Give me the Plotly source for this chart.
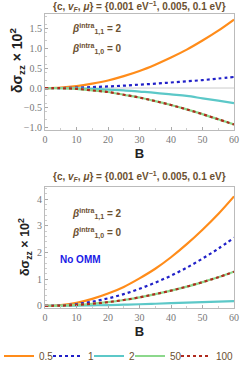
import plotly.graph_objects as go
from plotly.subplots import make_subplots

B = [0, 5, 10, 15, 20, 25, 30, 35, 40, 45, 50, 55, 60]

# Top panel (with OMM)
top_05 = [0, 0.012, 0.048, 0.11, 0.19, 0.30, 0.43, 0.59, 0.77, 0.97, 1.20, 1.45, 1.73]
top_1 = [0, 0.0, 0.01, 0.025, 0.04, 0.06, 0.085, 0.11, 0.14, 0.17, 0.20, 0.24, 0.28]
top_2 = [0, 0.0, -0.01, -0.02, -0.04, -0.06, -0.09, -0.12, -0.16, -0.20, -0.26, -0.32, -0.38]
top_50 = [0, -0.005, -0.02, -0.06, -0.10, -0.17, -0.24, -0.33, -0.43, -0.54, -0.66, -0.79, -0.92]
top_100 = [0, -0.005, -0.02, -0.06, -0.10, -0.17, -0.24, -0.33, -0.43, -0.54, -0.66, -0.79, -0.92]

# Bottom panel (No OMM)
bot_05 = [0, 0.03, 0.11, 0.26, 0.46, 0.71, 1.03, 1.39, 1.82, 2.31, 2.85, 3.44, 4.10]
bot_1 = [0, 0.02, 0.07, 0.16, 0.28, 0.44, 0.64, 0.87, 1.13, 1.43, 1.77, 2.14, 2.55]
bot_2 = [0, 0.005, 0.01, 0.02, 0.03, 0.045, 0.06, 0.08, 0.10, 0.12, 0.14, 0.16, 0.18]
bot_50 = [0, 0.01, 0.035, 0.08, 0.14, 0.22, 0.32, 0.44, 0.57, 0.72, 0.89, 1.07, 1.28]
bot_100 = [0, 0.01, 0.035, 0.08, 0.14, 0.22, 0.32, 0.44, 0.57, 0.72, 0.89, 1.07, 1.28]

names = ["0.5", "1", "2", "50", "100"]
colors = ["#FF8C1A", "#2020C8", "#5CC8C8", "#8CD88C", "#B02A1E"]
dashes = ["solid", "dot", "solid", "solid", "dot"]
legend_ids = ["legend", "legend2", "legend3", "legend4", "legend5"]
legend_left_px = [-1, 48, 89, 130, 176]

x_ticks = [0, 10, 20, 30, 40, 50, 60]
top_yticks = [-1.0, -0.5, 0.0, 0.5, 1.0, 1.5]
top_ytext = ["−1.0", "−0.5", "0.0", "0.5", "1.0", "1.5"]
bot_yticks = [0, 1, 2, 3, 4]

H, MB = 366, 20
PH = H - MB
ML, PW = 45, 189


def py(px):
    return 1 - px / PH


def pxx(px):
    return (px - ML) / PW


fig = make_subplots(rows=2, cols=1)

brown = "#6B5030"
for i, (t, b) in enumerate(zip([top_05, top_1, top_2, top_50, top_100],
                               [bot_05, bot_1, bot_2, bot_50, bot_100])):
    fig.add_trace(go.Scatter(x=B, y=t, mode="lines", name=names[i],
                             line=dict(color=colors[i], dash=dashes[i], width=2.2, shape="spline"),
                             showlegend=True, legendgroup=names[i],
                             legend=legend_ids[i]), row=1, col=1)
    fig.add_trace(go.Scatter(x=B, y=b, mode="lines", name=names[i],
                             line=dict(color=colors[i], dash=dashes[i], width=2.2, shape="spline"),
                             showlegend=False, legendgroup=names[i],
                             legend=legend_ids[i]), row=2, col=1)

tickfont = dict(family="Liberation Serif", size=10, color="#777777")
axis_common = dict(showgrid=False, zeroline=False, showline=True, mirror=True,
                   linecolor="#BBBBBB", linewidth=1, ticks="inside", ticklen=3,
                   tickcolor="#AAAAAA", tickfont=tickfont, automargin=False,
                   minor=dict(ticks="inside", ticklen=2, tickcolor="#CCCCCC"))

fig.update_xaxes(range=[0, 60], tickvals=x_ticks, **axis_common)
fig.update_yaxes(**axis_common)
fig.update_xaxes(domain=[0, 1])
fig.update_yaxes(range=[-1.06, 1.87], tickvals=top_yticks, ticktext=top_ytext,
                 domain=[py(130), py(14)], row=1, col=1)
fig.update_yaxes(range=[-0.08, 4.45], tickvals=bot_yticks,
                 domain=[py(308), py(187)], row=2, col=1)
fig.update_xaxes(title=dict(text="<b>B</b>", font=dict(family="Liberation Sans", size=13, color="#222222"),
                            standoff=4))

# zero line in top panel
fig.add_shape(type="line", x0=0, x1=60, y0=0, y1=0, xref="x", yref="y",
              line=dict(color="#CCCCCC", width=1), layer="below")

title_text = "<b>{c, <i>v<sub>F</sub></i>, <i>μ</i>} = {0.001 eV<sup>−1</sup>, 0.005, 0.1 eV}</b>"
ann = []
for yp in [py(6), py(176)]:
    ann.append(dict(x=0.5, y=yp, xref="paper", yref="paper", text=title_text, showarrow=False,
                    font=dict(family="Liberation Sans", size=10, color=brown), yanchor="middle"))
for xp, yp, fs in [(17, 61, 14), (25, 247, 12.5)]:
    ann.append(dict(x=pxx(xp), y=py(yp), xref="paper", yref="paper",
                    text="<b>δσ<sub>zz</sub> × 10<sup>2</sup></b>", showarrow=False, textangle=-90,
                    xanchor="center", yanchor="middle",
                    font=dict(family="Liberation Sans", size=fs, color="#222222")))
beta1 = "<b><i>β</i><sup>intra</sup><sub>1,1</sub> = 2</b>"
beta0 = "<b><i>β</i><sup>intra</sup><sub>1,0</sub> = 0</b>"
ann += [
    dict(x=8, y=1.48, xref="x", yref="y", text=beta1, showarrow=False, xanchor="left",
         font=dict(family="Liberation Sans", size=10, color=brown)),
    dict(x=8, y=0.98, xref="x", yref="y", text=beta0, showarrow=False, xanchor="left",
         font=dict(family="Liberation Sans", size=10, color=brown)),
    dict(x=8, y=3.45, xref="x2", yref="y2", text=beta1, showarrow=False, xanchor="left",
         font=dict(family="Liberation Sans", size=10, color=brown)),
    dict(x=8, y=2.72, xref="x2", yref="y2", text=beta0, showarrow=False, xanchor="left",
         font=dict(family="Liberation Sans", size=10, color=brown)),
    dict(x=4, y=1.72, xref="x2", yref="y2", text="<b>No OMM</b>", showarrow=False, xanchor="left",
         font=dict(family="Liberation Sans", size=10, color="#1A1AE6")),
]

legend_layout = {}
for lid, lx in zip(legend_ids, legend_left_px):
    legend_layout[lid] = dict(orientation="h", x=pxx(lx), y=py(356), xanchor="left", yanchor="middle",
                              font=dict(family="Liberation Sans", size=10, color=brown),
                              itemwidth=30, borderwidth=0, bgcolor="rgba(0,0,0,0)")

fig.update_layout(
    width=246, height=H,
    margin=dict(l=ML, r=12, t=0, b=MB, autoexpand=False),
    paper_bgcolor="white", plot_bgcolor="white",
    annotations=ann,
    **legend_layout,
)

fig.write_html("out.html", config={"displayModeBar": False},
               post_script="document.body.style.margin='0';document.body.style.overflow='hidden';")
